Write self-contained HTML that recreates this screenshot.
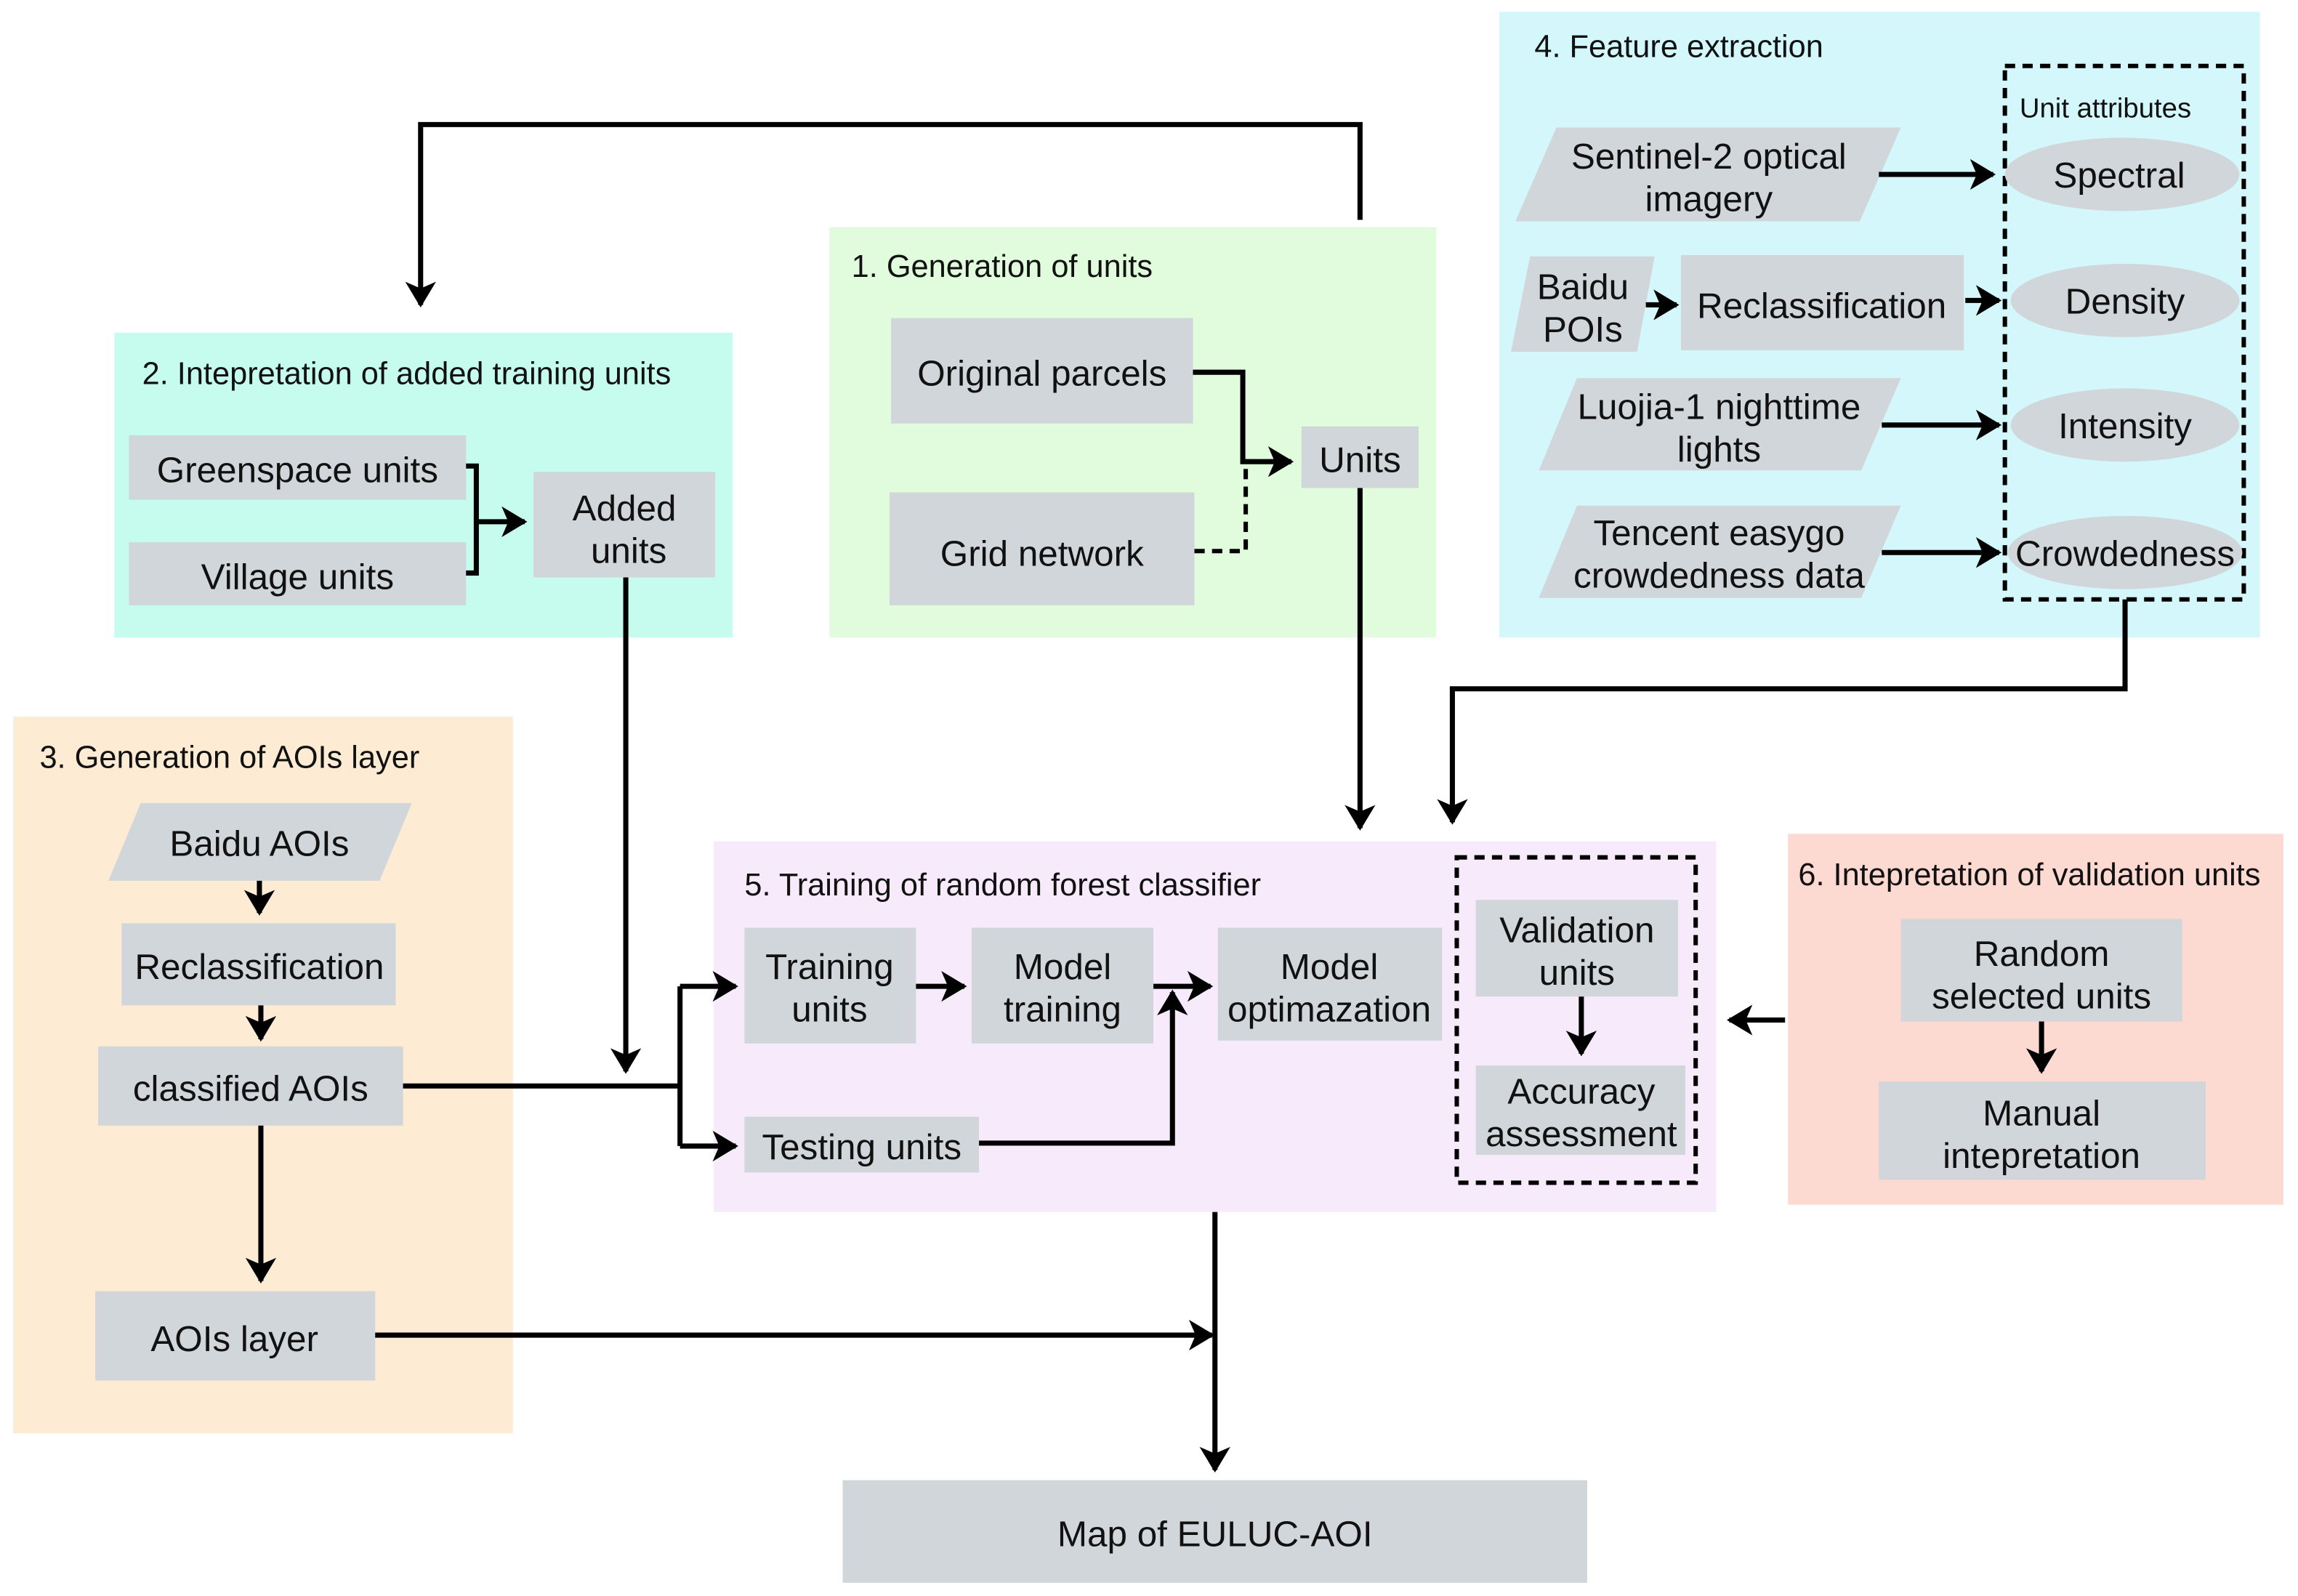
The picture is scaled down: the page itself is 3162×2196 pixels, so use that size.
<!DOCTYPE html>
<html><head><meta charset="utf-8"><style>
html,body{margin:0;padding:0;background:#fff}
svg{display:block}
text{font-family:"Liberation Sans",sans-serif;fill:#111}
.b{fill:#d0d6da}
.l{font-size:24.5px;text-anchor:middle}
.t{font-size:21.5px}
.w{stroke:#000;stroke-width:3.5;fill:none}
.d{stroke:#000;stroke-width:3;fill:none;stroke-dasharray:7 5}
</style></head><body>
<svg width="3162" height="2196" viewBox="0 0 1568 1089" preserveAspectRatio="none" xmlns="http://www.w3.org/2000/svg">
<defs><marker id="a" markerWidth="6" markerHeight="6" refX="4.5" refY="3" orient="auto" markerUnits="strokeWidth"><path d="M0,0 L5,3 L0,6 L1.3,3 z" fill="#000"/></marker></defs>
<rect x="78" y="227" width="422" height="208" fill="#c5fcee"/>
<rect x="566" y="155" width="414" height="280" fill="#e0fcdc"/>
<rect x="1023" y="8" width="519" height="427" fill="#d3f7fa"/>
<rect x="9" y="489" width="341" height="489" fill="#fdebd3"/>
<rect x="487" y="574" width="684" height="253" fill="#f7ebfb"/>
<rect x="1220" y="569" width="338" height="253" fill="#fcd9d1"/>
<text class="t" x="97" y="262">2. Intepretation of added training units</text>
<text class="t" x="581" y="189">1. Generation of units</text>
<text class="t" x="1047" y="39">4. Feature extraction</text>
<text class="t" x="27" y="524">3. Generation of AOIs layer</text>
<text class="t" x="508" y="611">5. Training of random forest classifier</text>
<text class="t" x="1227" y="604">6. Intepretation of validation units</text>
<rect class="b" x="88" y="297" width="230" height="44"/><text class="l" x="203" y="329">Greenspace units</text>
<rect class="b" x="88" y="370" width="230" height="43"/><text class="l" x="203" y="402">Village units</text>
<rect class="b" x="364" y="322" width="124" height="72"/><text class="l" x="426" y="355">Added</text><text class="l" x="429" y="384">units</text>
<rect class="b" x="608" y="217" width="206" height="72"/><text class="l" x="711" y="263">Original parcels</text>
<rect class="b" x="607" y="336" width="208" height="77"/><text class="l" x="711" y="386">Grid network</text>
<rect class="b" x="888" y="291" width="80" height="42"/><text class="l" x="928" y="322">Units</text>
<rect class="d" x="1368" y="45" width="163" height="364"/>
<text x="1378" y="80" style="font-size:19px">Unit attributes</text>
<polygon class="b" points="1062,87 1297,87 1269,151 1034,151"/><text class="l" x="1166" y="115">Sentinel-2 optical</text><text class="l" x="1166" y="144">imagery</text>
<polygon class="b" points="1044,175 1129,175 1117,240 1031,240"/><text class="l" x="1080" y="204">Baidu</text><text class="l" x="1080" y="233">POIs</text>
<rect class="b" x="1147" y="174" width="193" height="65"/><text class="l" x="1243" y="217">Reclassification</text>
<polygon class="b" points="1076,258 1297,258 1270,321 1050,321"/><text class="l" x="1173" y="286">Luojia-1 nighttime</text><text class="l" x="1173" y="315">lights</text>
<polygon class="b" points="1076,345 1297,345 1270,408 1050,408"/><text class="l" x="1173" y="372">Tencent easygo</text><text class="l" x="1173" y="401">crowdedness data</text>
<ellipse class="b" cx="1448" cy="119" rx="80" ry="25"/><text class="l" x="1446" y="128">Spectral</text>
<ellipse class="b" cx="1450" cy="205" rx="78" ry="25"/><text class="l" x="1450" y="214">Density</text>
<ellipse class="b" cx="1450" cy="290" rx="78" ry="25"/><text class="l" x="1450" y="299">Intensity</text>
<ellipse class="b" cx="1450" cy="377" rx="80" ry="25"/><text class="l" x="1450" y="386">Crowdedness</text>
<polygon class="b" points="96,548 281,548 259,601 74,601"/><text class="l" x="177" y="584">Baidu AOIs</text>
<rect class="b" x="83" y="630" width="187" height="56"/><text class="l" x="177" y="668">Reclassification</text>
<rect class="b" x="67" y="714" width="208" height="54"/><text class="l" x="171" y="751">classified AOIs</text>
<rect class="b" x="65" y="881" width="191" height="61"/><text class="l" x="160" y="922">AOIs layer</text>
<rect class="b" x="508" y="633" width="117" height="79"/><text class="l" x="566" y="668">Training</text><text class="l" x="566" y="697">units</text>
<rect class="b" x="663" y="633" width="124" height="79"/><text class="l" x="725" y="668">Model</text><text class="l" x="725" y="697">training</text>
<rect class="b" x="831" y="633" width="153" height="77"/><text class="l" x="907" y="668">Model</text><text class="l" x="907" y="697">optimazation</text>
<rect class="b" x="508" y="762" width="160" height="38"/><text class="l" x="588" y="791">Testing units</text>
<rect class="d" x="994" y="585" width="163" height="222"/>
<rect class="b" x="1007" y="614" width="138" height="66"/><text class="l" x="1076" y="643">Validation</text><text class="l" x="1076" y="672">units</text>
<rect class="b" x="1007" y="727" width="143" height="61"/><text class="l" x="1079" y="753">Accuracy</text><text class="l" x="1079" y="782">assessment</text>
<rect class="b" x="1297" y="627" width="192" height="70"/><text class="l" x="1393" y="659">Random</text><text class="l" x="1393" y="688">selected units</text>
<rect class="b" x="1282" y="738" width="223" height="67"/><text class="l" x="1393" y="768">Manual</text><text class="l" x="1393" y="797">intepretation</text>
<rect class="b" x="575" y="1010" width="508" height="70"/><text class="l" x="829" y="1055">Map of EULUC-AOI</text>
<polyline class="w" points="928,150 928,85 287,85 287,208" marker-end="url(#a)"/>
<polyline class="w" points="928,333 928,565" marker-end="url(#a)"/>
<polyline class="w" points="1450,409 1450,470 991,470 991,561" marker-end="url(#a)"/>
<polyline class="w" points="814,254 848,254 848,315 881,315" marker-end="url(#a)"/>
<polyline class="d" points="815,376 850,376 850,318"/>
<polyline class="w" points="318,318 325,318 325,391 318,391"/>
<polyline class="w" points="325,356 358,356" marker-end="url(#a)"/>
<polyline class="w" points="427,394 427,731" marker-end="url(#a)"/>
<polyline class="w" points="275,741 464,741"/>
<polyline class="w" points="464,673 464,782"/>
<polyline class="w" points="464,673 502,673" marker-end="url(#a)"/>
<polyline class="w" points="464,782 502,782" marker-end="url(#a)"/>
<polyline class="w" points="625,673 658,673" marker-end="url(#a)"/>
<polyline class="w" points="787,673 826,673" marker-end="url(#a)"/>
<polyline class="w" points="668,780 800,780 800,677" marker-end="url(#a)"/>
<polyline class="w" points="1079,680 1079,719" marker-end="url(#a)"/>
<polyline class="w" points="1218,696 1180,696" marker-end="url(#a)"/>
<polyline class="w" points="1393,697 1393,731" marker-end="url(#a)"/>
<polyline class="w" points="177,601 177,623" marker-end="url(#a)"/>
<polyline class="w" points="178,686 178,709" marker-end="url(#a)"/>
<polyline class="w" points="178,768 178,874" marker-end="url(#a)"/>
<polyline class="w" points="256,911 827,911" marker-end="url(#a)"/>
<polyline class="w" points="829,827 829,1003" marker-end="url(#a)"/>
<polyline class="w" points="1282,119 1360,119" marker-end="url(#a)"/>
<polyline class="w" points="1123,208 1144,208" marker-end="url(#a)"/>
<polyline class="w" points="1341,205 1364,205" marker-end="url(#a)"/>
<polyline class="w" points="1284,290 1364,290" marker-end="url(#a)"/>
<polyline class="w" points="1284,377 1364,377" marker-end="url(#a)"/>
</svg>
</body></html>
